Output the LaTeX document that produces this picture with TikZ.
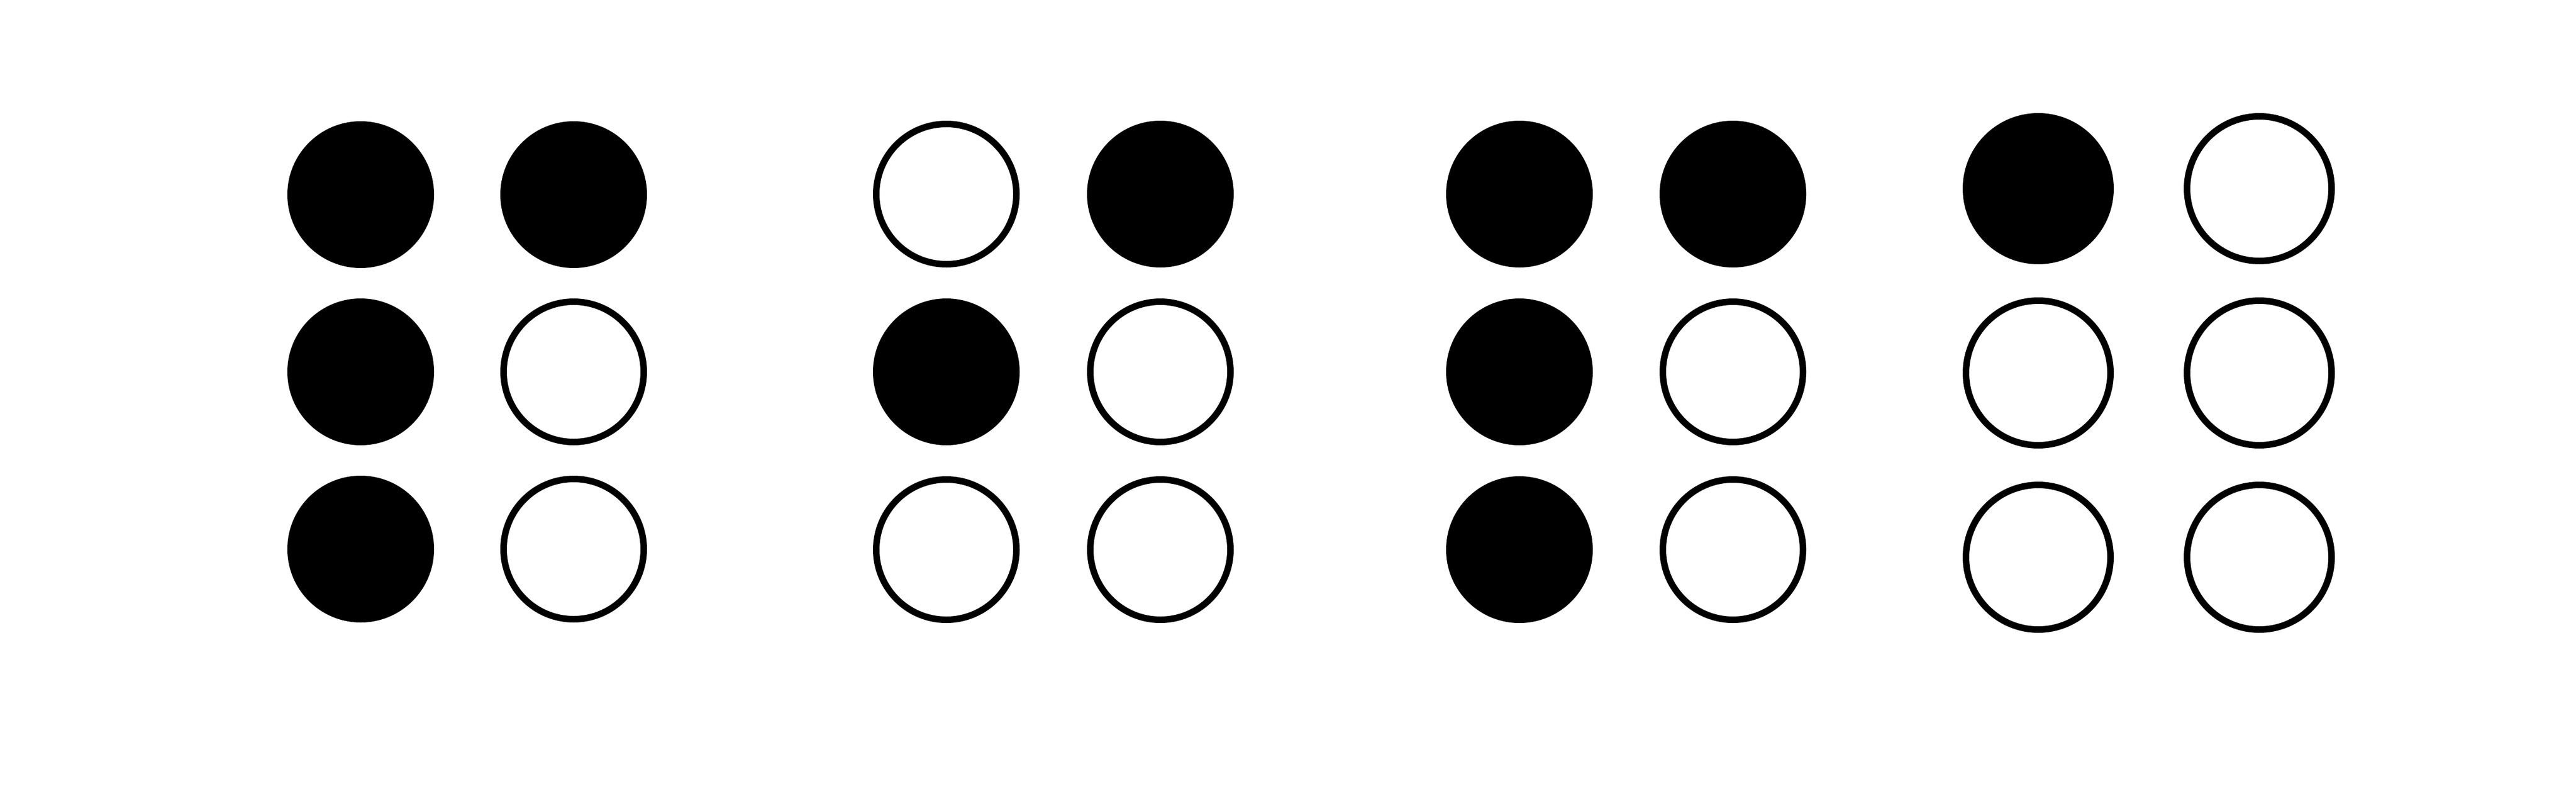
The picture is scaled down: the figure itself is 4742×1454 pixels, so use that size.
\documentclass[tikz,border=0pt]{standalone}
\begin{document}
\begin{tikzpicture}[x=1pt,y=-1pt,
  dot/.style={circle,draw=black,line width=12pt,inner sep=0pt,minimum size=258pt,fill=white},
  bigdot/.style={dot,minimum size=266pt},
  on/.style={fill=black}]
\useasboundingbox[fill=white] (0,0) rectangle (4742,1454);
% cell 1
\node[dot,on] (a1) at (664,358) {};
\node[dot,on] (a4) at (1056,358) {};
\node[dot,on] (a2) at (664,684) {};
\node[dot]    (a5) at (1056,684) {};
\node[dot,on] (a3) at (664,1010) {};
\node[dot]    (a6) at (1056,1010) {};
% cell 2
\node[dot]    (b1) at (1742,357) {};
\node[dot,on] (b4) at (2136,357) {};
\node[dot,on] (b2) at (1742,684) {};
\node[dot]    (b5) at (2136,684) {};
\node[dot]    (b3) at (1742,1011) {};
\node[dot]    (b6) at (2136,1011) {};
% cell 3
\node[dot,on] (c1) at (2797,357) {};
\node[dot,on] (c4) at (3190,357) {};
\node[dot,on] (c2) at (2797,684) {};
\node[dot]    (c5) at (3190,684) {};
\node[dot,on] (c3) at (2797,1011) {};
\node[dot]    (c6) at (3190,1011) {};
% cell 4
\node[bigdot,on] (d1) at (3752,347) {};
\node[bigdot]    (d4) at (4159,347) {};
\node[bigdot]    (d2) at (3752,686) {};
\node[bigdot]    (d5) at (4159,686) {};
\node[bigdot]    (d3) at (3752,1025) {};
\node[bigdot]    (d6) at (4159,1025) {};
\end{tikzpicture}
\end{document}
